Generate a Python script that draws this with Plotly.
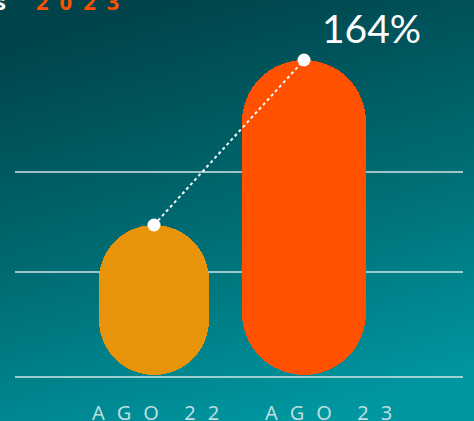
import base64
import plotly.graph_objects as go

# ---- data ----
categories = ["A\u2002\u200aG\u2002\u200aO\u2003\u2009\u200a2\u2002\u200a2",
              "A\u2002\u200aG\u2002\u200aO\u2003\u2009\u200a2\u2002\u200a3"]
cat_pos = [0, 1]
values = [150, 315]            # bar heights (chart units)
bar_widths = [0.733, 0.827]    # bar widths (x units)
bar_colors = ["#E8940A", "#FF5100"]
grid_levels = [-1.7, 103, 203.3]
growth_label = "164%"
title_word = "s"
title_year = "2\u20020\u20022\u20023"

W, H = 474, 421
ML, MR = 15, 11
PX_PER_X = 150.0
X0_PX = 154.0
xrange_ = [(ML - X0_PX) / PX_PER_X, (W - MR - X0_PX) / PX_PER_X]
yrange_ = [-(H - 375), 375]

def px_x(px):
    return (px - ML) / (W - ML - MR)

# background gradient (SVG data uri)
svg = (
    '<svg xmlns="http://www.w3.org/2000/svg" width="474" height="421" viewBox="0 0 474 421" preserveAspectRatio="none">'
    '<defs><linearGradient id="g" x1="0.35" y1="0" x2="0.65" y2="1">'
    '<stop offset="0" stop-color="#00434A"/>'
    '<stop offset="0.5" stop-color="#006A71"/>'
    '<stop offset="1" stop-color="#0097A1"/>'
    '</linearGradient></defs>'
    '<rect width="474" height="421" fill="url(#g)"/></svg>'
)
bg_uri = "data:image/svg+xml;base64," + base64.b64encode(svg.encode()).decode()

fig = go.Figure()
fig.add_trace(go.Bar(
    x=cat_pos, y=values, base=[0] * len(values),
    width=bar_widths, marker=dict(color=bar_colors, line=dict(width=0), cornerradius="50%"),
    hoverinfo="skip", showlegend=False))
# connector
fig.add_trace(go.Scatter(
    x=cat_pos, y=values, mode="lines+markers",
    line=dict(color="white", width=2, dash="dot"),
    marker=dict(color="white", size=13),
    hoverinfo="skip", showlegend=False))

annotations = []
xshifts = [1.5, 24]
for c, p, xs in zip(categories, cat_pos, xshifts):
    annotations.append(dict(
        x=p, y=-37, xref="x", yref="y", text=c, showarrow=False,
        xanchor="center", yanchor="middle", xshift=xs,
        font=dict(family="Noto Sans", size=20, color="rgba(215,232,232,0.9)")))
annotations.append(dict(
    x=1, y=375 - 28, xref="x", yref="y", text=growth_label, showarrow=False,
    xanchor="center", yanchor="middle", xshift=371.7 - 304,
    font=dict(family="Lato", size=39, color="white")))
annotations.append(dict(
    x=px_x(8), y=1, xref="paper", yref="paper", text="<b>" + title_word + "</b>",
    showarrow=False, xanchor="right", yanchor="bottom", yshift=-18,
    font=dict(family="Noto Sans", size=22, color="white")))
annotations.append(dict(
    x=px_x(34), y=1, xref="paper", yref="paper", text="<b>" + title_year + "</b>",
    showarrow=False, xanchor="left", yanchor="bottom", yshift=-18,
    font=dict(family="Noto Sans", size=22, color="#FF5100")))

fig.update_layout(
    width=W, height=H,
    margin=dict(l=ML, r=MR, t=0, b=0, pad=0),
    paper_bgcolor="#006A71", plot_bgcolor="rgba(0,0,0,0)",
    barmode="overlay", bargap=0,
    images=[dict(source=bg_uri, xref="paper", yref="paper",
                 x=px_x(0), y=1, sizex=W / (W - ML - MR), sizey=1,
                 xanchor="left", yanchor="top", sizing="stretch", layer="below")],
    xaxis=dict(range=xrange_, showgrid=False, zeroline=False, showticklabels=False,
               ticks="", showline=False, fixedrange=True),
    yaxis=dict(range=yrange_, tickvals=grid_levels, showgrid=True,
               gridcolor="rgba(210,230,230,0.75)", gridwidth=1.5, zeroline=False,
               showticklabels=False, ticks="", showline=False, fixedrange=True),
    annotations=annotations,
)

fig.write_html("out.html", config={"displayModeBar": False},
               post_script="document.body.style.margin='0';document.body.style.overflow='hidden';")
